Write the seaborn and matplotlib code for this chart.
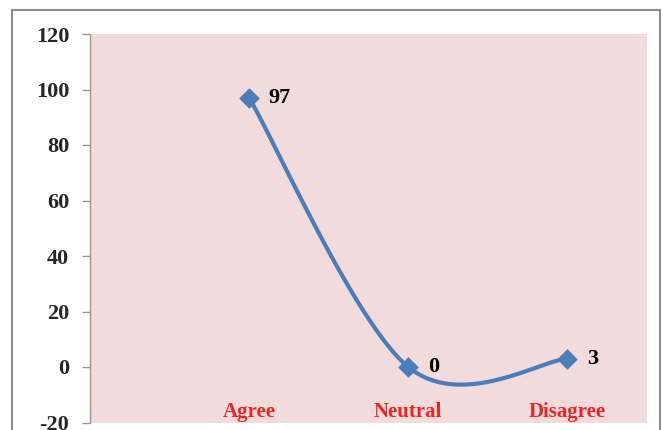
import numpy as np
import pandas as pd
import seaborn as sns
import matplotlib.pyplot as plt
from matplotlib.patches import Rectangle

# datos
categorias = ['Agree', 'Neutral', 'Disagree']
valores = [97, 0, 3]
y_ticks = [-20, 0, 20, 40, 60, 80, 100, 120]

sns.set_theme(style='white')
plt.rcParams['font.family'] = ['Liberation Serif', 'DejaVu Serif']
plt.rcParams['font.weight'] = 'bold'

x = np.arange(len(categorias), dtype=float)
y = np.array(valores, dtype=float)

# curva suavizada tipo Excel (Bezier con puntos de control)
px, py = [], []
n = len(x)
for i in range(n - 1):
    p0 = np.array([x[i], y[i]])
    p1 = np.array([x[i + 1], y[i + 1]])
    pm = np.array([x[max(i - 1, 0)], y[max(i - 1, 0)]])
    pp = np.array([x[min(i + 2, n - 1)], y[min(i + 2, n - 1)]])
    c1 = p0 + (p1 - pm) / 6
    c2 = p1 - (pp - p0) / 6
    t = np.linspace(0, 1, 60)[:, None]
    b = (1 - t) ** 3 * p0 + 3 * (1 - t) ** 2 * t * c1 + 3 * (1 - t) * t ** 2 * c2 + t ** 3 * p1
    px.extend(b[:, 0])
    py.extend(b[:, 1])
curva = pd.DataFrame({'x': px, 'y': py})
puntos = pd.DataFrame({'x': x, 'y': y})

fig = plt.figure(figsize=(6.63, 4.30), dpi=100)
ax = fig.add_axes([90 / 663, 1 - 422.5 / 430, (647 - 90) / 663, (422.5 - 34) / 430])
ax.set_facecolor('#f2dcdb')

azul = '#4a7ebb'
sns.lineplot(data=curva, x='x', y='y', sort=False, color=azul, linewidth=3, ax=ax)
sns.scatterplot(data=puntos, x='x', y='y', marker='D', s=95, color=azul, edgecolor=azul, ax=ax, zorder=3)

for xi, yi in zip(x, y):
    ax.annotate(f'{int(yi)}', (xi, yi), xytext=(14, 0), textcoords='offset points',
                ha='left', va='center', fontsize=16, fontweight='bold', color='black')

ax.set_xlim(-1, 2.5)
ax.set_ylim(-20, 120)
ax.set_yticks(y_ticks)
ax.set_yticklabels([str(v) for v in y_ticks], fontsize=16, fontweight='bold')
ax.set_xticks(x)
ax.set_xticklabels(categorias, fontsize=15, fontweight='bold', color='#ee2222')
ax.tick_params(axis='x', length=0, pad=-15)
ax.tick_params(axis='y', length=6, width=1, color='#999999', direction='out', pad=9, left=True)
ax.set_xlabel('')
ax.set_ylabel('')
for s in ['top', 'right', 'bottom']:
    ax.spines[s].set_visible(False)
ax.spines['left'].set_color('#999999')
ax.spines['left'].set_linewidth(1)

# borde exterior
fig.patches.append(Rectangle((12 / 663, -0.1), (660 - 12) / 663, 1.1 - 10 / 430,
                             transform=fig.transFigure, fill=False, edgecolor='#8c8c8c', linewidth=1.5))

fig.savefig('out.png', dpi=100)
